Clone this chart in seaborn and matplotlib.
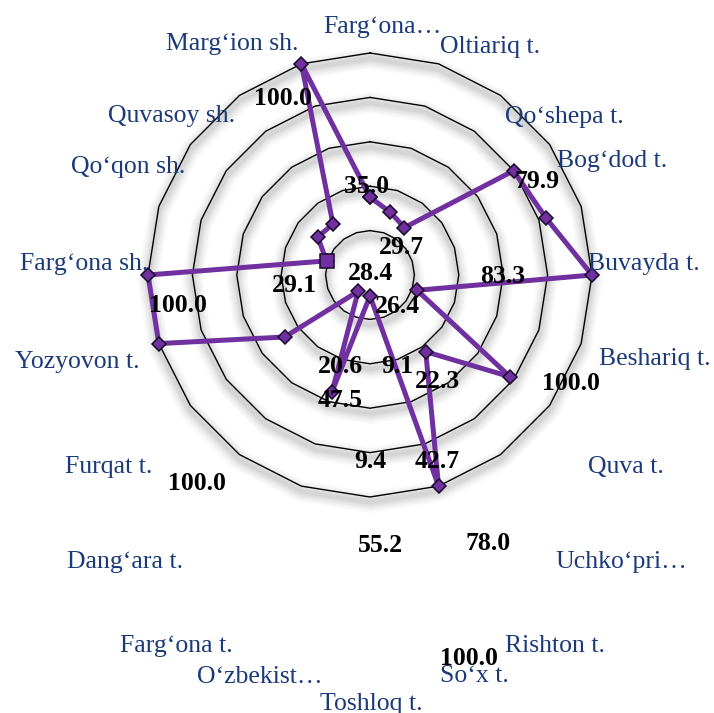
import numpy as np
import pandas as pd
import matplotlib
matplotlib.use("Agg")
import matplotlib.pyplot as plt
import matplotlib.patheffects as pe
import seaborn as sns

# ---------------- data ----------------
categories = ["Farg‘ona…", "Oltiariq t.", "Qo‘shepa t.", "Bog‘dod t.", "Buvayda t.",
              "Beshariq t.", "Quva t.", "Uchko‘pri…", "Rishton t.", "So‘x t.",
              "Toshloq t.", "O‘zbekist…", "Farg‘ona t.", "Dang‘ara t.", "Furqat t.",
              "Yozyovon t.", "Farg‘ona sh.", "Qo‘qon sh.", "Quvasoy sh.", "Marg‘ion sh."]
values = [35.0, 29.7, 26.4, 79.9, 83.3, 100.0, 22.3, 78.0, 42.7, 100.0,
          9.4, 55.2, 9.1, 47.5, 100.0, 100.0, 20.6, 29.1, 28.4, 100.0]
ring_ticks = [20, 40, 60, 80, 100]
highlight = "Farg‘ona sh."

# ---------------- layout (pixel positions of the texts as in the original) ----------------
W, H = 714, 713
cat_label_pos = [(382, 33, "center"), (440, 53, "left"), (505, 123, "left"), (557, 167, "left"),
                 (588, 270, "left"), (599, 365, "left"), (588, 473, "left"), (555, 568, "left"),
                 (505, 652, "left"), (440, 682, "left"), (371, 710, "center"), (323, 683, "right"),
                 (233, 652, "right"), (183, 568, "right"), (152, 473, "right"), (140, 368, "right"),
                 (148, 270, "right"), (185, 173, "right"), (235, 122, "right"), (298, 50, "right")]
val_label_pos = [(367, 193), (401, 254), (397, 313), (537, 188), (503, 283), (571, 390),
                 (437, 388), (488, 550), (437, 468), (469, 665), (370, 468), (380, 552),
                 (397, 373), (340, 407), (197, 490), (178, 312), (340, 373), (294, 292),
                 (370, 280), (283, 105)]

sns.set_style("white")
plt.rcParams["font.family"] = ["Liberation Serif", "DejaVu Serif"]

n = len(categories)
angles = np.arange(n) * 2 * np.pi / n
df = pd.DataFrame({"angle": np.append(angles, 2 * np.pi),
                   "value": values + [values[0]],
                   "cat": categories + [categories[0]]})

fig = plt.figure(figsize=(W / 100, H / 100), dpi=100)
cx, cy, R = 370, 275, 222
ax = fig.add_axes([(cx - R) / W, (H - cy - R) / H, 2 * R / W, 2 * R / H], projection="polar")
ax.set_theta_zero_location("N")
ax.set_theta_direction(-1)
ax.set_ylim(0, 100)
ax.grid(False)
ax.set_xticks([])
ax.set_yticks([])
ax.spines["polar"].set_visible(False)
ax.patch.set_alpha(0)

shadow = [pe.SimpleLineShadow(offset=(0, -3.8), shadow_color="black", alpha=0.022, linewidth=lw)
          for lw in (15, 12.5, 10, 8, 6, 4.5, 3)] + [pe.Normal()]
ring_angles = np.append(angles, 2 * np.pi)
for t in ring_ticks:
    ax.plot(ring_angles, [t] * len(ring_angles), color="black", lw=1.0,
            clip_on=False, zorder=2, path_effects=shadow)

sns.lineplot(data=df, x="angle", y="value", sort=False, ax=ax, color="#7030A0",
             linewidth=3.6, marker="D", markersize=7.5, markerfacecolor="#7030A0",
             markeredgecolor="#1a0a2a", markeredgewidth=1.1, clip_on=False, zorder=5)
hi = df[df["cat"] == highlight]
ax.plot(hi["angle"], hi["value"], linestyle="none", marker="s", markersize=9.5,
        markerfacecolor="#7030A0", markeredgecolor="#1a0a2a", markeredgewidth=1.1,
        clip_on=False, zorder=6)
ax.set_xlabel("")
ax.set_ylabel("")

for (x, y, ha), lab in zip(cat_label_pos, categories):
    fig.text(x / W, 1 - y / H, lab, ha=ha, va="baseline", fontsize=18.5, color="#1B3A7A")
for (x, y), v in zip(val_label_pos, values):
    fig.text(x / W, 1 - y / H, f"{v:.1f}", ha="center", va="baseline", fontsize=18.5,
             fontweight="bold", color="black", zorder=10)

fig.savefig("out.png", dpi=100)
